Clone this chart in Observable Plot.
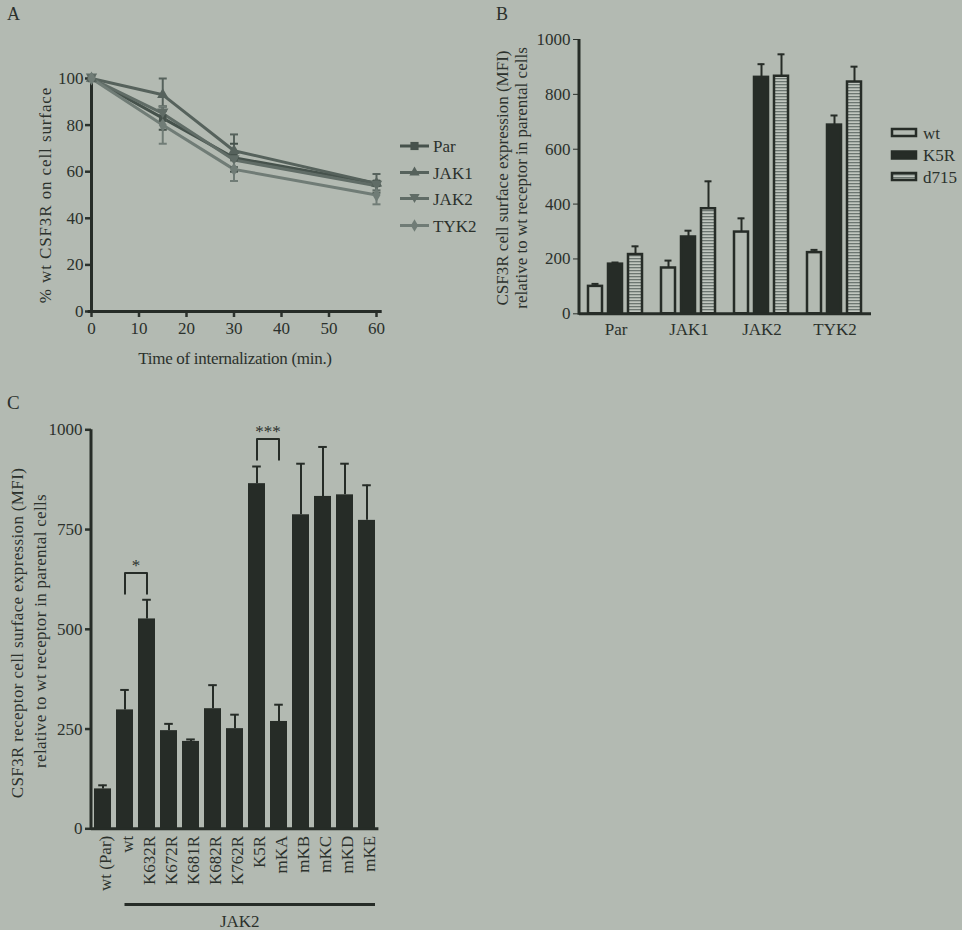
<!DOCTYPE html>
<html><head><meta charset="utf-8">
<script src="https://cdn.jsdelivr.net/npm/d3@7"></script>
<script src="https://cdn.jsdelivr.net/npm/@observablehq/plot@0.6"></script>
<style>
html,body{margin:0;padding:0;background:#b3bab2;}
#root{position:relative;width:962px;height:930px;background:#b3bab2;overflow:hidden;font-family:"Liberation Serif","Times New Roman",serif;}
</style></head><body><div id="root"></div>
<script>
// ---------- data ----------
// Panel A
const timesA = [0, 15, 30, 60];
const seriesA = ["Par", "JAK1", "JAK2", "TYK2"];
const parA = [100, 83, 66, 55];
const parErrA = [0, 5, 6, 1];
const jak1A = [100, 93, 69, 55];
const jak1ErrA = [0, 7, 7, 4];
const jak2A = [100, 85, 65, 54];
const jak2ErrA = [0, 3, 3, 2];
const tyk2A = [100, 80, 61, 50];
const tyk2ErrA = [0, 8, 5, 4];
const xTicksA = [0, 10, 20, 30, 40, 50, 60];
const yTicksA = [0, 20, 40, 60, 80, 100];

// Panel B
const groupsB = ["Par", "JAK1", "JAK2", "TYK2"];
const receptorsB = ["wt", "K5R", "d715"];
const wtB = [100, 167, 298, 223];
const wtErrB = [9, 27, 50, 10];
const k5rB = [181, 280, 862, 688];
const k5rErrB = [6, 23, 48, 35];
const d715B = [216, 383, 866, 845];
const d715ErrB = [30, 100, 80, 56];
const yTicksB = [0, 200, 400, 600, 800, 1000];

// Panel C
const mutantsC = ["wt (Par)", "wt", "K632R", "K672R", "K681R", "K682R", "K762R", "K5R", "mKA", "mKB", "mKC", "mKD", "mKE"];
const valuesC = [100, 298, 526, 246, 219, 301, 251, 865, 269, 787, 833, 837, 773];
const errorsC = [9, 50, 48, 17, 5, 59, 35, 43, 42, 128, 124, 78, 88];
const yTicksC = [0, 250, 500, 750, 1000];
const sigFrom = ["wt", "K5R"];
const sigTo = ["K632R", "mKA"];
const sigTop = [641, 977];
const sigBottom = [589, 925];
const sigLabels = ["*", "***"];

// ---------- styles ----------
const font = "Liberation Serif, Times New Roman, serif";
const dark = "#262c27";
const textColor = "#2b312c";
const bg = "#b3bab2";
const colorsA = ["#46524c", "#56625c", "#606c66", "#707c76"];
const baseStyle = {background: "none", fontFamily: font, fontSize: "17px", color: textColor, overflow: "visible"};

const root = document.getElementById("root");
function place(el, left, top) {
  el.style.position = "absolute";
  el.style.left = left + "px";
  el.style.top = top + "px";
  root.appendChild(el);
}

// symbols
const triDown = {draw(ctx, size) {
  const s = Math.sqrt(size / 1.3);
  ctx.moveTo(0, s * 0.75); ctx.lineTo(-s * 0.87, -s * 0.75); ctx.lineTo(s * 0.87, -s * 0.75); ctx.closePath();
}};
const capSym = {draw(ctx, size) {
  const r = Math.sqrt(size / Math.PI);
  ctx.moveTo(-r, 0); ctx.lineTo(r, 0);
}};
const symbolsA = [d3.symbolSquare, d3.symbolTriangle, triDown, d3.symbolDiamond];
const fmt = d3.format("d");

// ---------- panel A ----------
const longA = [];
[[seriesA[0], parA, parErrA], [seriesA[1], jak1A, jak1ErrA], [seriesA[2], jak2A, jak2ErrA], [seriesA[3], tyk2A, tyk2ErrA]]
  .forEach(([s, vals, errs]) => vals.forEach((v, i) => longA.push({series: s, t: timesA[i], v, e: errs[i]})));
const errA = longA.filter(d => d.e > 0);

const plotA = Plot.plot({
  width: 480, height: 380,
  marginLeft: 91, marginRight: 104, marginTop: 78, marginBottom: 69,
  style: baseStyle,
  x: {domain: [0, 60], label: null},
  y: {domain: [0, 100], label: null},
  color: {domain: seriesA, range: colorsA},
  symbol: {domain: seriesA, range: symbolsA},
  marks: [
    Plot.axisX({ticks: xTicksA, tickSize: 6, tickPadding: 4, strokeWidth: 2.5, label: null}),
    Plot.axisY({ticks: yTicksA, tickSize: 6, tickPadding: 2, strokeWidth: 2.5, label: null}),
    Plot.ruleX([0], {y1: 0, y2: 100, stroke: dark, strokeWidth: 3}),
    Plot.ruleY([0], {x1: -0.7, x2: 61.2, stroke: dark, strokeWidth: 3}),
    Plot.line(longA, {x: "t", y: "v", z: "series", stroke: "series", strokeWidth: 3}),
    Plot.ruleX(errA, {x: "t", y1: d => d.v - d.e, y2: d => d.v + d.e, stroke: "series", strokeWidth: 2}),
    Plot.dot(errA, {x: "t", y: d => d.v + d.e, symbol: capSym, r: 4, fill: "none", stroke: "series", strokeWidth: 2}),
    Plot.dot(errA, {x: "t", y: d => d.v - d.e, symbol: capSym, r: 4, fill: "none", stroke: "series", strokeWidth: 2}),
    Plot.dot(longA, {x: "t", y: "v", symbol: "series", fill: "series", r: 4.2})
  ]
});
place(plotA, 0, 0);

// ---------- panel B ----------
const longB = [];
[[receptorsB[0], wtB, wtErrB], [receptorsB[1], k5rB, k5rErrB], [receptorsB[2], d715B, d715ErrB]]
  .forEach(([r, vals, errs]) => vals.forEach((v, i) => longB.push({group: groupsB[i], receptor: r, v, e: errs[i]})));

const plotB = Plot.plot({
  width: 482, height: 360,
  marginLeft: 99, marginRight: 91, marginTop: 39, marginBottom: 46.7,
  style: baseStyle,
  fx: {domain: groupsB, padding: 0, axis: "bottom", label: null, tickSize: 0, tickPadding: 9},
  x: {domain: receptorsB, axis: null, paddingInner: 0.28, paddingOuter: 0.46},
  y: {domain: [0, 1000], ticks: yTicksB, tickSize: 6, tickPadding: 3, tickFormat: fmt, label: null},
  color: {domain: receptorsB, range: [bg, dark, "url(#stripes)"]},
  marks: [
    Plot.ruleX(longB, {fx: "group", x: "receptor", y1: "v", y2: d => d.v + d.e, stroke: dark, strokeWidth: 2}),
    Plot.tickY(longB, {fx: "group", x: "receptor", y: d => d.v + d.e, insetLeft: 3.5, insetRight: 3.5, stroke: dark, strokeWidth: 2}),
    Plot.barY(longB, {fx: "group", x: "receptor", y: "v", fill: "receptor", stroke: dark, strokeWidth: 2.5}),
    Plot.ruleY([0], {stroke: dark, strokeWidth: 3})
  ]
});
place(plotB, 480, 0);
{
  const y = plotB.scale("y");
  d3.select(plotB).append("line").attr("x1", 99).attr("x2", 99)
    .attr("y1", y.apply(0) + 1.5).attr("y2", y.apply(1000)).attr("stroke", dark).attr("stroke-width", 3);
}

// ---------- panel C ----------
const dataC = mutantsC.map((m, i) => ({m, v: valuesC[i], e: errorsC[i]}));
const bracketC = [];
sigFrom.forEach((f, i) => {
  bracketC.push({k: i, m: f, y: sigBottom[i]}, {k: i, m: f, y: sigTop[i]}, {k: i, m: sigTo[i], y: sigTop[i]}, {k: i, m: sigTo[i], y: sigBottom[i]});
});
const starsC = sigFrom.map((f, i) => ({m: f, y: sigTop[i], label: sigLabels[i]}));

const plotC = Plot.plot({
  width: 480, height: 550,
  marginLeft: 91, marginRight: 101.6, marginTop: 49.3, marginBottom: 101.7,
  style: baseStyle,
  x: {domain: mutantsC, paddingInner: 0.25, paddingOuter: 0.12, label: null},
  y: {domain: [0, 1000], ticks: yTicksC, tickSize: 6, tickPadding: 3, tickFormat: fmt, label: null},
  marks: [
    Plot.axisX({tickSize: 0, tickPadding: 7, tickRotate: -90, dx: 3, label: null}),
    Plot.axisY({ticks: yTicksC, tickSize: 6, tickPadding: 3, tickFormat: fmt, strokeWidth: 2.5, label: null}),
    Plot.ruleX(dataC, {x: "m", y1: "v", y2: d => d.v + d.e, stroke: dark, strokeWidth: 2}),
    Plot.tickY(dataC, {x: "m", y: d => d.v + d.e, insetLeft: 4.2, insetRight: 4.2, stroke: dark, strokeWidth: 2}),
    Plot.barY(dataC, {x: "m", y: "v", fill: dark}),
    Plot.line(bracketC, {x: "m", y: "y", z: "k", stroke: dark, strokeWidth: 2}),
    Plot.text(starsC, {x: "m", y: "y", text: "label", dx: 11, dy: -2, lineAnchor: "bottom", fill: textColor, fontSize: 17}),
    Plot.ruleY([0], {stroke: dark, strokeWidth: 3})
  ]
});
place(plotC, 0, 380);
{
  const y = plotC.scale("y");
  d3.select(plotC).append("line").attr("x1", 91).attr("x2", 91)
    .attr("y1", y.apply(0) + 1.5).attr("y2", y.apply(1000)).attr("stroke", dark).attr("stroke-width", 3);
}

// ---------- overlay: labels, legends ----------
const ov = d3.select(root).append("svg")
  .attr("width", 962).attr("height", 930)
  .style("position", "absolute").style("left", "0px").style("top", "0px")
  .style("font-family", font).style("pointer-events", "none");

const defs = ov.append("defs");
const pat = defs.append("pattern").attr("id", "stripes").attr("patternUnits", "userSpaceOnUse")
  .attr("width", 6).attr("height", 3);
pat.append("rect").attr("width", 6).attr("height", 3).attr("fill", "#c0c6bf");
pat.append("rect").attr("y", 0).attr("width", 6).attr("height", 1.3).attr("fill", "#6c7671");

function txt(x, y, s, opts = {}) {
  const t = ov.append("text").attr("x", x).attr("y", y).text(s)
    .attr("fill", opts.fill || textColor).attr("font-size", opts.size || 17)
    .attr("text-anchor", opts.anchor || "start");
  if (opts.rotate) t.attr("transform", `rotate(${opts.rotate},${x},${y})`);
  if (opts.baseline) t.attr("dominant-baseline", opts.baseline);
  if (opts.ls != null) t.attr("letter-spacing", opts.ls);
  return t;
}

// panel letters
txt(7, 20, "A", {size: 18});
txt(496, 20, "B", {size: 18});
txt(7, 409, "C", {size: 19});

// axis titles
txt(45, 195, "% wt CSF3R on cell surface", {anchor: "middle", rotate: -90, baseline: "central", ls: 0.9});
txt(235, 358, "Time of internalization (min.)", {anchor: "middle", baseline: "central", ls: -0.3});
txt(502, 178, "CSF3R cell surface expression (MFI)", {anchor: "middle", rotate: -90, baseline: "central"});
txt(521, 178, "relative to wt receptor in parental cells", {anchor: "middle", rotate: -90, baseline: "central"});
txt(17, 633, "CSF3R receptor cell surface expression (MFI)", {anchor: "middle", rotate: -90, baseline: "central", ls: 0.35});
txt(40, 631, "relative to wt receptor in parental cells", {anchor: "middle", rotate: -90, baseline: "central", ls: 0.3});

// legend A
const legYA = [146, 172.5, 198.5, 225.5];
const legRA = [4.6, 3.8, 3.8, 3.8];
seriesA.forEach((s, i) => {
  ov.append("line").attr("x1", 400).attr("x2", 429).attr("y1", legYA[i]).attr("y2", legYA[i])
    .attr("stroke", colorsA[i]).attr("stroke-width", 3);
  ov.append("path").attr("d", d3.symbol(symbolsA[i], Math.PI * legRA[i] * legRA[i])())
    .attr("transform", `translate(414.5,${legYA[i]})`).attr("fill", colorsA[i]);
  txt(433, legYA[i] + 6, s);
});

// legend B
const legYB = [132.5, 155, 176.5];
const legFill = [bg, dark, "url(#stripes)"];
receptorsB.forEach((r, i) => {
  ov.append("rect").attr("x", 892).attr("y", legYB[i] - 3.5).attr("width", 24).attr("height", 7)
    .attr("fill", legFill[i]).attr("stroke", dark).attr("stroke-width", 2.5);
  txt(923, legYB[i] + 6, r);
});

// JAK2 group line under panel C
{
  const x = plotC.scale("x");
  const x1 = x.apply("wt") + x.bandwidth / 2;
  const x2 = x.apply("mKE") + x.bandwidth;
  ov.append("line").attr("x1", x1).attr("x2", x2).attr("y1", 904.5).attr("y2", 904.5)
    .attr("stroke", dark).attr("stroke-width", 3);
  txt((x1 + x2) / 2 - 10, 927, "JAK2", {anchor: "middle"});
}
</script></body></html>
